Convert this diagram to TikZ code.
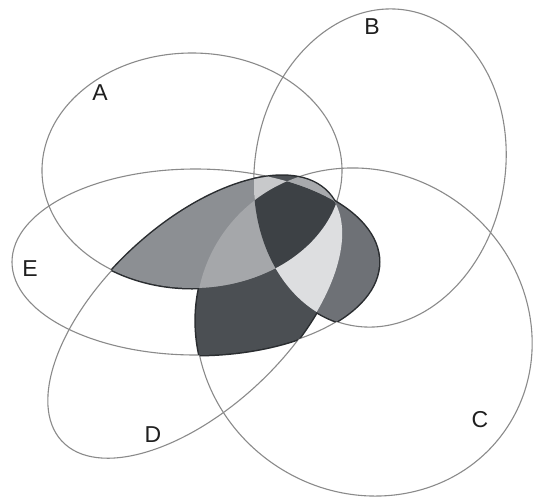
\documentclass[tikz,border=0pt]{standalone}
\usepackage{fontspec}
\setmainfont{Liberation Sans}
\definecolor{lineg}{HTML}{8A8A8A}
\definecolor{boldc}{HTML}{2A2D30}
\definecolor{rone}{HTML}{8C8F93}
\definecolor{rtwo}{HTML}{A5A7AA}
\definecolor{rthree}{HTML}{3D4145}
\definecolor{rfour}{HTML}{C8C9CB}
\definecolor{rfive}{HTML}{4C5054}
\definecolor{rsix}{HTML}{DDDEE0}
\definecolor{rseven}{HTML}{6E7176}
\definecolor{reight}{HTML}{4B4F53}
\definecolor{rnine}{HTML}{A8AAAD}
\begin{document}
\begin{tikzpicture}[x=1pt,y=-1pt]
\tikzset{
 rA/.style={},
 rB/.style={rotate around={-10:(380,168)}},
 rC/.style={rotate around={-35:(364,332)}},
 rD/.style={rotate around={43:(195,317)}},
 rE/.style={},
 ellline/.style={draw=lineg, line width=1.1pt},
 boldline/.style={draw=boldc, line width=3pt},
 lbl/.style={font=\fontsize{23}{26}\selectfont, text=black!88, inner sep=0pt},
}
\def\pA{(192,170.5) ellipse [x radius=150, y radius=117.5]}
\def\pB{(380,168) ellipse [x radius=125, y radius=160]}
\def\pC{(364,332) ellipse [x radius=172, y radius=160]}
\def\pD{(195,317) ellipse [x radius=182, y radius=92]}
\def\pE{(195.5,262) ellipse [x radius=183.5, y radius=93]}
\def\cA{\clip[rA]\pA;}
\def\cB{\clip[rB]\pB;}
\def\cC{\clip[rC]\pC;}
\def\cD{\clip[rD]\pD;}
\def\cE{\clip[rE]\pE;}
\def\sA{\draw[boldline,rA]\pA;}
\def\sB{\draw[boldline,rB]\pB;}
\def\sC{\draw[boldline,rC]\pC;}
\def\sD{\draw[boldline,rD]\pD;}
\def\sE{\draw[boldline,rE]\pE;}
\def\whole{(-10,-10) rectangle (545,506)}
\fill[white] (0,0) rectangle (535,496);
\useasboundingbox (0,0) rectangle (535,496);
% thin outlines of the five sets
\draw[ellline,rA] \pA;
\draw[ellline,rB] \pB;
\draw[ellline,rC] \pC;
\draw[ellline,rD] \pD;
\draw[ellline,rE] \pE;
% bold outline of the shaded union
\begin{scope}\cD\cE\sC\end{scope}
\begin{scope}\cC\cE\sD\end{scope}
\begin{scope}\cC\cD\sE\end{scope}
\begin{scope}\cC\cE\sB\end{scope}
\begin{scope}\cB\cE\sC\end{scope}
\begin{scope}\cB\cC\sE\end{scope}
\begin{scope}\cD\cE\sA\end{scope}
\begin{scope}\cA\cE\sD\end{scope}
\begin{scope}\cA\cD\sE\end{scope}
\begin{scope}\cB\cD\sA\end{scope}
\begin{scope}\cA\cD\sB\end{scope}
\begin{scope}\cA\cB\sD\end{scope}
% shaded regions
\begin{scope}\cC\cD\cE\fill[reight]\whole;\end{scope}
\begin{scope}\cB\cC\cE\fill[rseven]\whole;\end{scope}
\begin{scope}\cA\cD\cE\fill[rone]\whole;\end{scope}
\begin{scope}\cA\cB\cD\fill[rfive]\whole;\end{scope}
\begin{scope}\cA\cB\cC\cD\fill[rnine]\whole;\end{scope}
\begin{scope}\cB\cC\cD\cE\fill[rsix]\whole;\end{scope}
\begin{scope}\cA\cB\cD\cE\fill[rfour]\whole;\end{scope}
\begin{scope}\cA\cC\cD\cE\fill[rtwo]\whole;\end{scope}
\begin{scope}\cA\cB\cC\cD\cE\fill[rthree]\whole;\end{scope}
% labels
\node[lbl] (la) at (100,93) {A};
\node[lbl] (lb) at (372,27) {B};
\node[lbl] (lc) at (480,420) {C};
\node[lbl] (ld) at (153,435) {D};
\node[lbl] (le) at (30,269) {E};
\end{tikzpicture}
\end{document}
